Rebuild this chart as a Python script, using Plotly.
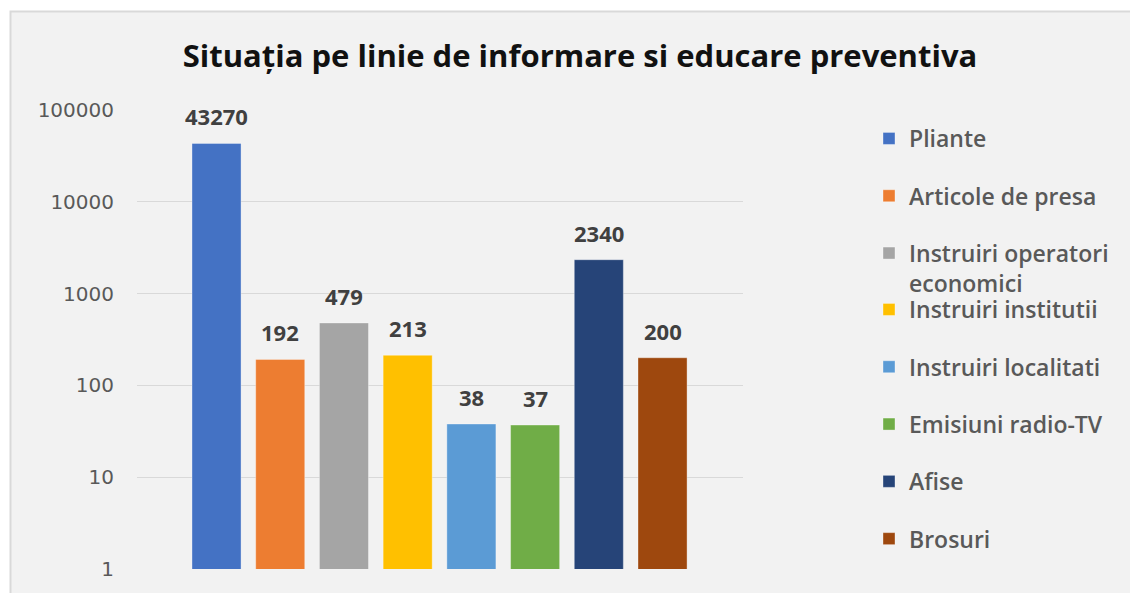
import math
import plotly.graph_objects as go

categories = ["Pliante", "Articole de presa", "Instruiri operatori economici",
              "Instruiri institutii", "Instruiri localitati", "Emisiuni radio-TV",
              "Afise", "Brosuri"]
legend_labels = ["Pliante", "Articole de presa", "Instruiri operatori<br>economici",
                 "Instruiri institutii", "Instruiri localitati", "Emisiuni radio-TV",
                 "Afise", "Brosuri"]
values = [43270, 192, 479, 213, 38, 37, 2340, 200]
colors = ["#4472C4", "#ED7D31", "#A5A5A5", "#FFC000", "#5B9BD5", "#70AD47",
          "#264478", "#9E480E"]
tick_vals = [1, 10, 100, 1000, 10000, 100000]
tick_text = ["1", "10", "100", "1000", "10000", "100000"]
title_text = "Situația pe linie de informare si educare preventiva"

# page has an 8px body margin, so the figure is sized to fit the window
OFF = 8
W, H = 1138 - OFF, 593 - OFF
L, R, T, B = 129, 395, 102, 19
pw, ph = W - L - R, H - T - B

fig = go.Figure()
for i, (cat, lab, v, c) in enumerate(zip(categories, legend_labels, values, colors)):
    fig.add_trace(go.Bar(
        x=[cat], y=[v], name=lab,
        marker=dict(color=c, line=dict(color="rgba(255,255,255,0.35)", width=1)),
        legendgroup=cat, legend="legend" if i < 3 else "legend2",
        hoverinfo="name+y",
    ))
    fig.add_annotation(x=cat, y=math.log10(v), xref="x", yref="y", text=f"<b>{v}</b>",
                       showarrow=False, yanchor="bottom", yshift=10,
                       font=dict(family="Open Sans", size=22, color="#404040"))

legend_font = dict(family="Open Sans", size=23, color="#595959", weight=600)

fig.update_layout(
    width=W, height=H, autosize=False,
    margin=dict(l=L, r=R, t=T, b=B),
    paper_bgcolor="white", plot_bgcolor="rgba(0,0,0,0)",
    barmode="overlay", bargap=0.23,
    title=dict(text=f"<b>{title_text}</b>", x=572 / W, xanchor="center", xref="container",
               y=1 - 48 / H, yanchor="middle", yref="container",
               font=dict(family="Open Sans", size=31, color="#111111")),
    xaxis=dict(type="category", range=[-1.248, 8.263], showticklabels=False,
               showgrid=False, zeroline=False, showline=False, ticks=""),
    yaxis=dict(type="log", range=[0, 5], tickvals=tick_vals, ticktext=tick_text,
               showgrid=True, gridcolor="#d9d9d9", gridwidth=1, zeroline=False,
               showline=False, ticks="", ticklabelstandoff=22,
               tickfont=dict(family="DejaVu Sans", size=20, color="#595959")),
    legend=dict(xref="container", yref="container", x=861 / W, y=1 - 109 / H,
                xanchor="left", yanchor="top", bgcolor="rgba(0,0,0,0)",
                font=legend_font, tracegroupgap=24.4, valign="top", traceorder="grouped"),
    legend2=dict(xref="container", yref="container", x=861 / W, y=1 - 280 / H,
                 xanchor="left", yanchor="top", bgcolor="rgba(0,0,0,0)",
                 font=legend_font, tracegroupgap=24.4, valign="top", traceorder="grouped"),
    showlegend=True,
)

fig.add_shape(type="rect", xref="paper", yref="paper",
              x0=(2.5 - L) / pw, x1=(W + 10 - L) / pw,
              y0=-(B + 10) / ph, y1=(H - B - 2.5) / ph,
              fillcolor="#f2f2f2", line=dict(color="#d9d9d9", width=2), layer="below")

fig.write_html("out.html")
